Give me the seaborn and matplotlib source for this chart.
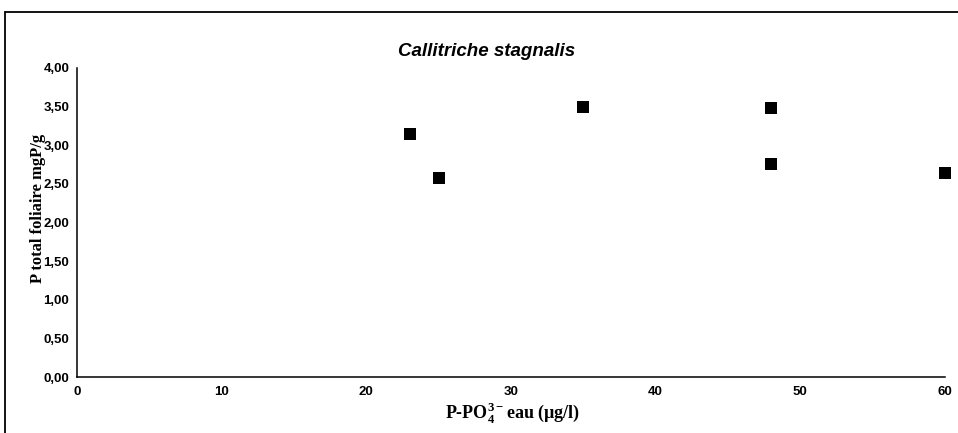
import matplotlib
matplotlib.use("Agg")
import matplotlib.pyplot as plt
import seaborn as sns
import pandas as pd
from matplotlib.lines import Line2D
from matplotlib.ticker import FuncFormatter

# Données
p_po4_eau = [23, 25, 35, 48, 48, 60]
p_total_foliaire = [3.15, 2.58, 3.50, 3.48, 2.76, 2.64]
x_ticks = [0, 10, 20, 30, 40, 50, 60]
y_ticks = [0.0, 0.5, 1.0, 1.5, 2.0, 2.5, 3.0, 3.5, 4.0]

df = pd.DataFrame({"x": p_po4_eau, "y": p_total_foliaire})

sns.set_style("white")
plt.rcParams["font.family"] = ["Liberation Sans", "DejaVu Sans"]
plt.rcParams["text.color"] = "black"
plt.rcParams["axes.labelcolor"] = "black"
plt.rcParams["mathtext.fontset"] = "custom"
plt.rcParams["mathtext.rm"] = "Liberation Serif:bold"
plt.rcParams["mathtext.bf"] = "Liberation Serif:bold"

fig = plt.figure(figsize=(9.58, 4.33), dpi=100)
ax = fig.add_axes([77 / 958, 1 - 377 / 433, (945 - 77) / 958, (377 - 68) / 433])

sns.scatterplot(data=df, x="x", y="y", marker="s", color="black",
                s=75, edgecolor="black", linewidth=0, ax=ax, clip_on=False, zorder=5)

ax.set_xlim(0, 60)
ax.set_ylim(0, 4)
ax.set_xticks(x_ticks)
ax.set_yticks(y_ticks)
ax.yaxis.set_major_formatter(FuncFormatter(lambda v, p: f"{v:.2f}".replace(".", ",")))
ax.set_xlabel("")
ax.set_ylabel("")

for side in ["top", "right"]:
    ax.spines[side].set_visible(False)
for side in ["left", "bottom"]:
    ax.spines[side].set_color("black")
    ax.spines[side].set_linewidth(1.1)

ax.tick_params(axis="both", direction="inout", length=5, width=1.0, color="black",
               labelsize=9.5, labelcolor="black")
ax.tick_params(axis="x", pad=4)
ax.tick_params(axis="y", pad=3)
for lab in ax.get_xticklabels() + ax.get_yticklabels():
    lab.set_fontweight("bold")

# Titre et étiquettes
fig.text(487 / 958, 1 - 52 / 433, "Callitriche stagnalis", ha="center", va="center",
         fontsize=13.5, fontweight="heavy", fontstyle="italic", color="black")
fig.text(38 / 958, 1 - 208 / 433, "P total foliaire mgP/g", rotation=90,
         ha="center", va="center", fontsize=12, fontweight="bold", color="black",
         family=["Liberation Serif", "DejaVu Serif"])
fig.text(513 / 958, 1 - 413 / 433, r"P-PO$_\mathbf{4}^\mathbf{3-}$eau (µg/l)",
         ha="center", va="center", fontsize=13, fontweight="bold", color="black",
         family=["Liberation Serif", "DejaVu Serif"])

# Cadre extérieur (coupé à droite et en bas)
fig.add_artist(Line2D([5 / 958, 1], [1 - 12 / 433, 1 - 12 / 433],
                      transform=fig.transFigure, color="black", linewidth=1.3))
fig.add_artist(Line2D([5 / 958, 5 / 958], [0, 1 - 12 / 433],
                      transform=fig.transFigure, color="black", linewidth=1.3))

plt.savefig("out.png", dpi=100)
